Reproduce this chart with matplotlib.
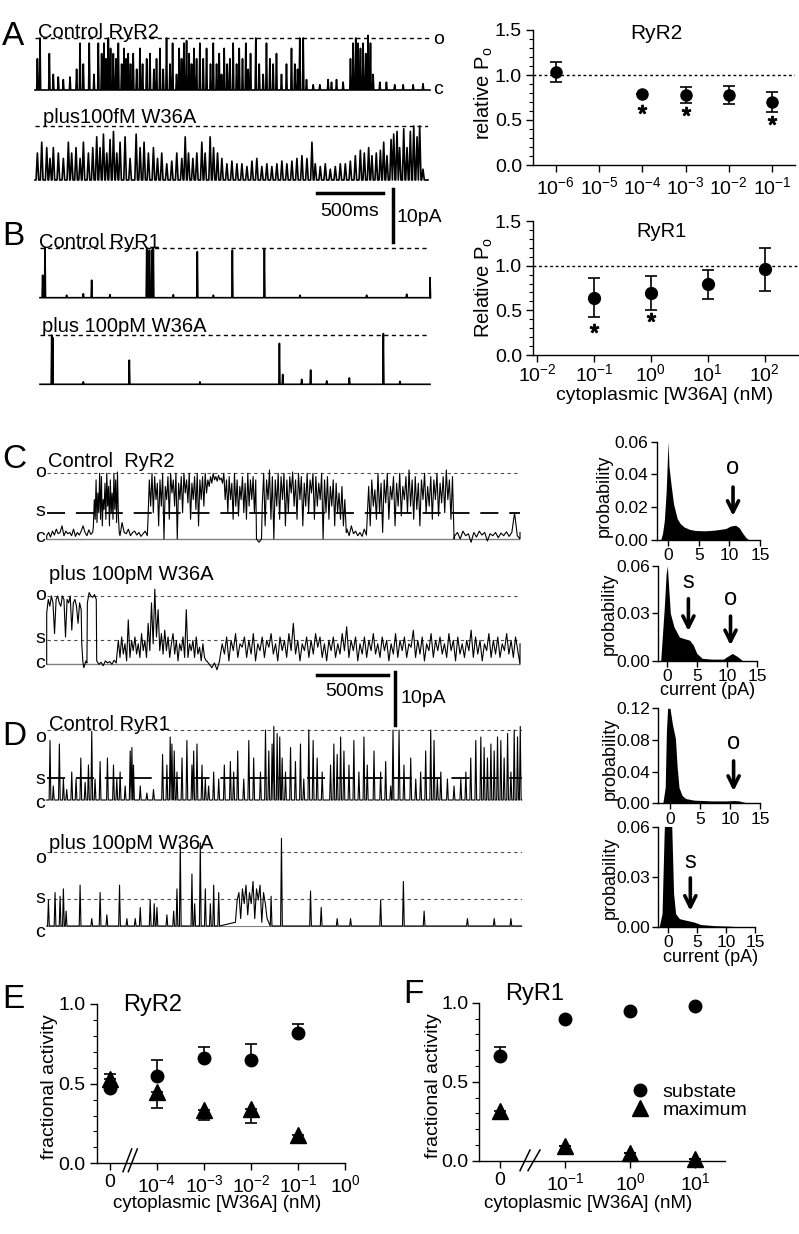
import numpy as np
import matplotlib
matplotlib.use("Agg")
import matplotlib.pyplot as plt
from matplotlib.lines import Line2D
from matplotlib.ticker import MultipleLocator, FixedLocator, NullLocator, FormatStrFormatter

plt.rcParams['font.family'] = ['Liberation Sans', 'DejaVu Sans']
plt.rcParams['mathtext.fontset'] = 'custom'
plt.rcParams['mathtext.rm'] = 'Liberation Sans'
plt.rcParams['mathtext.it'] = 'Liberation Sans:italic'
plt.rcParams['mathtext.bf'] = 'Liberation Sans:bold'
plt.rcParams['axes.linewidth'] = 1.0

# ---------------- data ----------------
# A right: RyR2 relative Po vs cytoplasmic [W36A] (nM)
a_conc = [1e-6, 1e-4, 1e-3, 1e-2, 1e-1]
a_po = [1.03, 0.79, 0.78, 0.78, 0.70]
a_err = [0.11, 0.0, 0.09, 0.10, 0.11]
a_star_conc = [1e-4, 1e-3, 1e-1]
a_star_y = [0.62, 0.60, 0.50]
a_ticks = [1e-6, 1e-5, 1e-4, 1e-3, 1e-2, 1e-1]
a_ticklabels = ['$10^{-6}$', '$10^{-5}$', '$10^{-4}$', '$10^{-3}$', '$10^{-2}$', '$10^{-1}$']

# B right: RyR1
b_conc = [1e-1, 1e0, 1e1, 1e2]
b_po = [0.64, 0.69, 0.79, 0.96]
b_err = [0.22, 0.19, 0.16, 0.24]
b_star_conc = [1e-1, 1e0]
b_star_y = [0.30, 0.43]
b_ticks = [1e-2, 1e-1, 1e0, 1e1, 1e2]
b_ticklabels = ['$10^{-2}$', '$10^{-1}$', '$10^{0}$', '$10^{1}$', '$10^{2}$']

# single channel traces: spike times (ms) and amplitudes (fraction of open level)
a1_t = [18, 38, 109, 139, 177, 215, 266, 316, 342, 367, 412, 448, 481, 506, 524, 539, 557, 574,
        595, 615, 633, 658, 676, 691, 708, 726, 746, 772, 797, 817, 848, 873, 903, 923, 949, 974,
        999, 1025, 1045, 1075, 1095, 1113, 1131, 1151, 1171, 1189, 1207, 1227, 1252, 1278, 1303,
        1333, 1354, 1379, 1399, 1417, 1437, 1460, 1480, 1505, 1531, 1551, 1576, 1601, 1619, 1637,
        1677, 1703, 1733, 1758, 1784, 1809, 1834, 1872, 1910, 1948, 1973, 1994, 2011, 2037, 2062,
        2113, 2163, 2226, 2252, 2290, 2340, 2396, 2416, 2436, 2454, 2472, 2492, 2512, 2530, 2548,
        2568, 2619, 2669, 2732, 2796, 2872, 2947]
a1_amp = [0.6, 1.0, 0.7, 0.3, 0.25, 0.2, 0.25, 0.4, 0.9, 0.5, 0.9, 0.3, 0.9, 0.7, 0.9, 0.6, 1.0, 0.8,
          0.7, 0.6, 0.9, 0.5, 0.8, 0.6, 0.7, 0.5, 0.7, 0.4, 0.8, 0.5, 0.6, 0.7, 0.4, 0.6, 0.8, 0.4,
          1.0, 0.5, 0.9, 0.3, 0.8, 0.6, 0.9, 0.95, 0.7, 0.5, 0.8, 0.6, 0.9, 0.6, 0.8,
          0.5, 0.9, 0.5, 0.7, 0.3, 0.8, 0.5, 0.6, 0.9, 0.5, 0.8, 0.6, 0.9, 0.4, 0.7,
          1.0, 0.5, 0.3, 0.9, 0.6, 0.5, 0.7, 0.3, 0.5, 0.8, 0.5, 0.4, 1.0, 1.0, 0.2,
          0.1, 0.1, 0.2, 0.15, 0.2, 0.15, 0.6, 0.9, 1.0, 0.9, 0.8, 0.9, 0.7, 1.05, 0.9,
          0.3, 0.15, 0.15, 0.1, 0.1, 0.1, 0.12]

a2_t = [18, 51, 89, 114, 139, 177, 215, 253, 278, 311, 342, 367, 405, 438, 468, 493, 519, 544, 569,
        595, 620, 645, 683, 721, 767, 797, 827, 860, 898, 929, 961, 999, 1037, 1075, 1113, 1139,
        1164, 1197, 1227, 1265, 1290, 1328, 1354, 1384, 1417, 1455, 1493, 1531, 1569, 1607, 1645,
        1682, 1720, 1758, 1796, 1834, 1872, 1910, 1948, 1986, 2024, 2062, 2100, 2125, 2163, 2201,
        2239, 2277, 2315, 2353, 2391, 2429, 2467, 2497, 2530, 2555, 2588, 2619, 2644, 2669, 2700,
        2720, 2745, 2765, 2796, 2821, 2846, 2872, 2897, 2917, 2942]
a2_amp = [0.5, 0.7, 0.6, 0.4, 0.6, 0.5, 0.4, 0.7, 0.5, 0.6, 0.4, 0.7, 0.5, 0.6, 0.8, 0.6, 0.85, 0.5, 0.75,
          0.9, 0.5, 0.7, 0.8, 0.4, 0.85, 0.6, 0.7, 0.5, 0.6, 0.4, 0.5, 0.3, 0.35, 0.5, 0.4, 0.8,
          0.5, 0.4, 0.5, 0.7, 0.5, 0.8, 0.6, 0.5, 0.4, 0.3, 0.35, 0.3, 0.3, 0.25, 0.35,
          0.4, 0.25, 0.3, 0.25, 0.3, 0.35, 0.3, 0.35, 0.4, 0.45, 0.4, 0.7, 0.3, 0.25, 0.3,
          0.2, 0.25, 0.3, 0.3, 0.35, 0.45, 0.55, 0.5, 0.6, 0.45, 0.5, 0.55, 0.7, 0.45, 0.75,
          0.85, 0.9, 0.6, 0.95, 0.6, 0.9, 1.0, 0.8, 1.0, 0.2]

b1_t = [20, 38, 202, 329, 392, 531, 810, 830, 848, 860, 1012, 1194, 1316, 1460, 1703, 1973, 2479,
        2783, 2960]
b1_amp = [0.45, 1.0, 0.05, 0.08, 0.35, 0.06, 1.0, 0.95, 0.95, 1.0, 0.06, 0.92, 0.05, 0.95, 0.98,
          0.05, 0.05, 0.07, 0.4]

b2_t = [89, 96, 329, 678, 1214, 1817, 1842, 1986, 2054, 2176, 2348, 2606, 2732]
b2_amp = [1.0, 0.95, 0.05, 0.49, 0.05, 0.83, 0.2, 0.1, 0.29, 0.07, 0.13, 1.03, 0.06]

# C control RyR2 trace: (start ms, end ms, evenly spaced levels)
c1_segments = [
    (0, 320, [0.05, 0.1, 0.03, 0.12, 0.06, 0.15, 0.08, 0.1, 0.2, 0.05, 0.12, 0.08, 0.1, 0.05,
              0.15, 0.04, 0.1, 0.06, 0.12, 0.2, 0.1, 0.05, 0.14, 0.07, 0.1]),
    (325, 505, [0.2, 0.6, 0.3, 0.9, 0.25, 0.7, 0.4, 1.0, 0.3, 0.95, 0.2, 0.6, 0.45, 0.85, 0.3,
                1.0, 0.5, 0.8, 0.2, 0.9, 0.4, 0.7, 0.3, 1.0, 0.45, 0.9, 0.25, 1.02, 0.35, 0.1]),
    (510, 700, [0.05, 0.25, 0.1, 0.08, 0.15, 0.05, 0.1, 0.12, 0.06, 0.1, 0.04, 0.08, 0.12, 0.05]),
    (705, 1455, [0.3, 0.9, 0.5, 1.0, 0.4, 0.95, 0.6, 0.85, 0.2, 0.9, 0.5, 1.0, 0.0, 0.8, 0.6,
                 0.95, 0.3, 1.0, 0.7, 0.9, 0.5, 1.0, 0.0, 0.85, 0.6, 0.95, 0.4, 1.0, 0.7, 0.9,
                 0.55, 1.0, 0.3, 0.85, 0.6, 0.95, 0.45, 1.0, 0.2, 0.9, 0.6, 0.95, 0.5, 1.0, 0.7,
                 0.9, 0.8, 0.95, 0.85, 1.0, 0.9, 0.95, 0.88, 0.97, 0.9, 0.93, 0.85, 1.0, 0.6, 0.9,
                 0.4, 0.95, 0.6, 0.85, 0.3, 1.0, 0.5, 0.9, 0.35, 0.8, 0.6, 0.95, 0.4, 0.85, 0.3,
                 1.0, 0.5, 0.9, 0.6, 0.95, 0.4, 0.9]),
    (1460, 1495, [0.0, -0.05, 0.0]),
    (1500, 2085, [0.5, 1.0, 0.2, 0.9, 0.6, 1.05, 0.3, 0.95, 0.0, 0.9, 0.5, 1.0, 0.3, 0.95, 0.6,
                  1.0, 0.2, 0.9, 0.4, 0.95, 0.7, 1.02, 0.5, 0.9, 0.3, 1.0, 0.6, 0.95, 0.2, 0.85,
                  0.5, 1.0, 0.4, 0.9, 0.7, 1.0, 0.3, 0.95, 0.5, 0.85, 0.6, 1.0, 0.0, 0.9, 0.4,
                  0.95, 0.3, 0.8, 0.5, 0.9, 0.2, 0.85, 0.4, 0.7, 0.3, 0.8, 0.2, 0.6, 0.1]),
    (2090, 2225, [0.15, 0.05, 0.2, 0.08, 0.12, 0.05, 0.1, 0.04, 0.15, 0.06]),
    (2230, 2835, [0.3, 0.8, 0.2, 0.9, 0.5, 0.75, 0.3, 1.0, 0.4, 0.85, 0.1, 0.9, 0.55, 1.0, 0.3,
                  0.8, 0.6, 0.95, 0.2, 0.85, 0.5, 1.0, 0.35, 0.8, 0.6, 0.95, 0.4, 1.05, 0.5, 0.9,
                  0.3, 0.95, 0.45, 0.85, 0.2, 0.9, 0.6, 1.0, 0.4, 0.8, 0.5, 0.95, 0.3, 0.9, 0.6,
                  1.0, 0.35, 0.85, 0.55, 0.95, 0.4, 1.05, 0.6, 0.9, 0.3, 0.95, 0.0]),
    (2840, 3294, [0.05, 0.1, 0.0, 0.12, 0.05, 0.08, -0.05, 0.1, 0.03, 0.12, 0.06, 0.1, -0.03,
                  0.08, 0.05, 0.1, 0.02, 0.09, 0.05, 0.11, 0.04, 0.1, 0.4, 0.05, 0.1]),
]

# C plus 100pM W36A
c2_segments = [
    (0, 240, [0.75, 0.95, 0.85, 1.0, 0.9, 0.45, 0.95, 1.0, 0.9, 0.85, 1.0, 0.95, 0.4, 0.95, 0.9,
              1.0, 0.5, 0.9, 0.95, 0.85, 0.6, 0.9, 0.8]),
    (244, 280, [0.3, 0.05, -0.05, 0.0, 0.05, 0.02]),
    (283, 345, [0.9, 1.05, 1.0, 0.98, 1.02, 0.95]),
    (348, 484, [0.05, 0.0, 0.03, -0.02, 0.05, 0.02, 0.04, 0.0, 0.06, 0.02]),
    (487, 1110, [0.1, 0.35, 0.1, 0.4, 0.15, 0.3, 0.05, 0.65, 0.1, 0.35, 0.2, 0.4, 0.15, 0.3, 0.1,
                 0.45, 0.2, 0.35, 0.1, 0.6, 0.2, 0.9, 0.3, 1.1, 0.4, 0.8, 0.2, 0.45, 0.15, 0.5,
                 0.2, 0.4, 0.1, 0.3, 0.45, 0.15, 0.35, 0.05, 0.3, 0.2, 0.4, 0.1, 0.8, 0.1, 0.3,
                 0.2, 0.35, 0.1, 0.4, 0.15, 0.25, 0.05, 0.3, 0.1, 0.05]),
    (1114, 1203, [0.05, 0.0, -0.05, 0.02, -0.08, 0.05]),
    (1206, 3294, [0.1, 0.3, 0.15, 0.4, 0.05, 0.35, 0.2, 0.45, 0.1, 0.3, 0.25, 0.4, 0.1, 0.35,
                  0.15, 0.45, 0.05, 0.3, 0.2, 0.4, 0.1, 0.35, 0.25, 0.45, 0.15, 0.3, 0.05, 0.4,
                  0.2, 0.35, 0.1, 0.45, 0.2, 0.6, 0.15, 0.35, 0.05, 0.3, 0.2, 0.4, 0.1, 0.35,
                  0.15, 0.45, 0.25, 0.4, 0.1, 0.3, 0.05, 0.35, 0.2, 0.4, 0.1, 0.3, 0.15, 0.45,
                  0.2, 0.55, 0.1, 0.35, 0.2, 0.4, 0.05, 0.3, 0.15, 0.4, 0.1, 0.35, 0.2, 0.45,
                  0.15, 0.3, 0.1, 0.4, 0.2, 0.35, 0.05, 0.3, 0.15, 0.45, 0.1, 0.35, 0.2, 0.4,
                  0.1, 0.3, 0.25, 0.5, 0.1, 0.35, 0.15, 0.4, 0.05, 0.3, 0.2, 0.45, 0.1, 0.35,
                  0.2, 0.4, 0.15, 0.3, 0.1, 0.45, 0.2, 0.35, 0.05, 0.4, 0.15, 0.3, 0.1, 0.35,
                  0.2, 0.5, 0.1, 0.4, 0.15, 0.35, 0.05, 0.3, 0.2, 0.45, 0.1, 0.35, 0.15, 0.4,
                  0.1, 0.3, 0.2, 0.45, 0.15, 0.35, 0.1, 0.4, 0.2, 0.3]),
]

# D control RyR1
d1_t = [23, 46, 88, 116, 139, 174, 204, 237, 267, 290, 313, 336, 371, 422, 464, 487, 510, 545,
        580, 592, 603, 650, 696, 742, 805, 835, 858, 870, 886, 905, 940, 974, 1009, 1021, 1044,
        1079, 1102, 1125, 1160, 1195, 1234, 1276, 1299, 1327, 1369, 1404, 1438, 1485, 1520, 1543,
        1566, 1578, 1601, 1619, 1636, 1659, 1694, 1728, 1763, 1786, 1821, 1851, 1879, 1914, 1972,
        1995, 2018, 2042, 2065, 2100, 2134, 2169, 2204, 2227, 2274, 2320, 2355, 2390, 2406, 2448,
        2482, 2529, 2564, 2598, 2633, 2668, 2691, 2714, 2738, 2784, 2830, 2877, 2912, 2946, 2981,
        3016, 3039, 3062, 3086, 3109, 3132, 3155, 3178, 3202, 3225, 3248, 3271, 3290]
d1_amp = [0.85, 0.2, 0.8, 0.3, 0.15, 0.4, 0.3, 0.6, 0.25, 0.5, 0.98, 0.3, 0.55, 0.6, 0.5, 0.3,
          0.4, 0.2, 0.7, 0.75, 0.5, 0.2, 0.1, 0.15, 0.65, 0.5, 0.9, 0.8, 0.7, 0.4, 0.6, 0.85, 0.5,
          0.7, 0.8, 0.5, 0.3, 0.2, 0.4, 0.3, 0.5, 0.55, 0.4, 0.7, 0.3, 0.85, 0.6, 0.4, 1.0, 0.7,
          0.8, 1.05, 0.95, 0.9, 0.6, 0.4, 0.75, 0.55, 0.8, 0.3, 1.0, 0.85, 0.6, 0.4, 0.5, 0.8,
          0.65, 0.9, 0.7, 0.5, 0.85, 0.4, 0.9, 0.5, 0.7, 0.4, 0.55, 0.2, 1.0, 1.0, 0.5, 0.6, 0.3,
          0.4, 0.7, 1.0, 0.85, 0.3, 0.4, 0.3, 0.2, 0.3, 0.4, 0.6, 0.85, 0.9, 0.75, 0.6, 0.8, 0.7,
          0.9, 0.85, 0.6, 0.95, 0.4, 1.0, 0.9, 1.05]

# D plus 100pM W36A
d2_t = [12, 58, 93, 116, 135, 232, 313, 371, 418, 506, 557, 615, 650, 719, 747, 766, 835, 882,
        905, 928, 1009, 1028, 1067, 1102, 1137, 1160, 1195, 1559, 1631, 1833, 1907, 2018, 2111,
        2320, 2478, 2622, 2923, 3109, 3225]
d2_amp = [0.35, 0.45, 0.4, 0.5, 0.2, 0.55, 0.1, 0.45, 0.15, 0.55, 0.1, 0.1, 0.25, 0.35, 0.3,
          0.25, 0.15, 0.2, 0.5, 1.12, 0.7, 0.3, 1.12, 0.5, 0.3, 0.55, 0.45, 0.4, 1.18, 0.47,
          0.25, 0.1, 0.1, 0.35, 0.6, 0.2, 0.1, 0.1, 0.1]
d2_segments = [
    (1311, 1531, [0.05, 0.35, 0.45, 0.1, 0.5, 0.3, 0.55, 0.15, 0.45, 0.3, 0.6, 0.1, 0.5, 0.35,
                  0.55, 0.05, 0.45, 0.3, 0.1]),
]

# current amplitude histograms (pA, probability)
hc1_x = [-1.2, -0.9, -0.6, -0.3, -0.1, 0.0, 0.15, 0.5, 0.9, 1.5, 2.0, 2.6, 3.5, 4.5, 6.0, 7.5,
         8.5, 9.4, 10.2, 11.0, 11.6, 12.2, 12.7, 13.2]
hc1_p = [0, 0.004, 0.012, 0.03, 0.05, 0.06, 0.045, 0.0335, 0.022, 0.013, 0.010, 0.008, 0.0065,
         0.0058, 0.0056, 0.006, 0.0065, 0.007, 0.0085, 0.009, 0.0075, 0.004, 0.0015, 0]
hc2_x = [-1.0, -0.4, -0.1, 0.1, 0.6, 1.2, 2.1, 2.9, 3.8, 4.4, 5.0, 5.9, 7.5, 9.4, 10.0, 10.9,
         11.8, 12.6]
hc2_p = [0, 0.034, 0.055, 0.06, 0.03, 0.0215, 0.015, 0.014, 0.013, 0.01, 0.0046, 0.0015, 0.001,
         0.001, 0.0025, 0.0046, 0.0025, 0]
hd1_x = [-1.2, -0.8, -0.6, -0.4, 0.0, 0.4, 0.9, 1.2, 1.5, 2.0, 2.6, 4.0, 7.0, 9.5, 10.6, 11.5,
         12.3, 13.0]
hd1_p = [0, 0.02, 0.09, 0.12, 0.12, 0.1, 0.082, 0.045, 0.02, 0.01, 0.006, 0.004, 0.003, 0.003,
         0.0035, 0.003, 0.0015, 0]
hd2_x = [-1.6, -1.1, -0.75, -0.5, 0.0, 0.5, 0.9, 1.25, 1.9, 3.1, 4.4, 5.6, 8.0, 10.5, 13.0]
hd2_p = [0, 0.008, 0.054, 0.08, 0.1, 0.07, 0.02, 0.008, 0.005, 0.004, 0.003, 0.0015, 0.0008,
         0.0005, 0]

# E: RyR2 fractional activity ("0" drawn at 1e-5)
e_conc = [1e-5, 1e-4, 1e-3, 1e-2, 1e-1]
e_sub = [0.47, 0.55, 0.66, 0.65, 0.82]
e_sub_err = [0.0, 0.10, 0.07, 0.10, 0.055]
e_max = [0.53, 0.45, 0.335, 0.34, 0.18]
e_max_lo = [0.0, 0.10, 0.065, 0.09, 0.05]
e_max_hi = [0.03, 0.0, 0.0, 0.0, 0.0]
e_ticks = [1e-5, 1e-4, 1e-3, 1e-2, 1e-1, 1e0]
e_ticklabels = ['0', '$10^{-4}$', '$10^{-3}$', '$10^{-2}$', '$10^{-1}$', '$10^{0}$']

# F: RyR1 fractional activity ("0" drawn at 1e-2)
f_conc = [1e-2, 1e-1, 1e0, 1e1]
f_sub = [0.665, 0.895, 0.95, 0.98]
f_sub_err = [0.055, 0, 0, 0]
f_max = [0.315, 0.093, 0.05, 0.01]
f_max_err = [0.04, 0, 0, 0]
f_ticks = [1e-2, 1e-1, 1e0, 1e1]
f_ticklabels = ['0', '$10^{-1}$', '$10^{0}$', '$10^{1}$']

# ---------------- figure ----------------
W, H = 799, 1234
fig = plt.figure(figsize=(W / 100, H / 100), dpi=100)


def px_axes(x0, y0, x1, y1):
    return fig.add_axes([x0 / W, 1 - y1 / H, (x1 - x0) / W, (y1 - y0) / H])


def ftext(x, y, s, **kw):
    kw.setdefault('va', 'baseline')
    return fig.text(x / W, 1 - y / H, s, **kw)


def fline(xs, ys, **kw):
    fig.add_artist(Line2D([x / W for x in xs], [1 - y / H for y in ys], **kw))


def draw_trace(x0, x1, y_open, y_base, t_end, times=None, amps=None, width=10,
               segments=None, lw=1.0):
    pad_top, pad_bot = 16, 10
    ax = px_axes(x0, y_open - pad_top, x1, y_base + pad_bot)
    span = y_base - y_open
    ax.set_xlim(0, t_end)
    ax.set_ylim(-pad_bot / span, 1 + pad_top / span)
    pts = [(0.0, 0.0), (float(t_end), 0.0)]
    if times is not None:
        for t, a in zip(times, amps):
            pts += [(t - width / 2, 0.0), (t, a), (t + width / 2, 0.0)]
    if segments:
        for t0, t1, vals in segments:
            pts += list(zip(np.linspace(t0, t1, len(vals)), vals))
    pts.sort(key=lambda p: p[0])
    xs, ys = zip(*pts)
    ax.plot(xs, ys, color='black', lw=lw, clip_on=False, zorder=3)
    ax.axis('off')
    return ax


def style_axes(ax, fs=14):
    for s in ['top', 'right']:
        ax.spines[s].set_visible(False)
    ax.tick_params(direction='out', length=5, width=1, labelsize=fs, pad=3)
    ax.tick_params(which='minor', direction='out', length=3, width=0.8)


# ----- panel A traces -----
ftext(2, 45, 'A', fontsize=24)
ax = draw_trace(35, 430, 38, 90, 3000, a1_t, a1_amp, width=10, lw=1.2)
ax.axhline(1.0, ls=(0, (3, 2.5)), color='black', lw=1.0, zorder=1)
ftext(38, 38.5, 'Control RyR2', fontsize=14.5)
ftext(433, 44, 'o', fontsize=14)
ftext(433, 94, 'c', fontsize=14)
ax = draw_trace(35, 428, 126, 180, 2980, a2_t, a2_amp, width=20, lw=1.2)
ax.axhline(1.0, ls=(0, (3, 2.5)), color='black', lw=1.0, zorder=1)
ftext(43, 122.7, 'plus100fM W36A', fontsize=14.5)

# scale bars A/B
fline([317, 383], [193, 193], color='black', lw=2.5)
fline([392.5, 392.5], [189, 242], color='black', lw=2.5)
ftext(350, 216, '500ms', fontsize=14, ha='center')
ftext(397, 221.7, '10pA', fontsize=14)

# ----- panel B traces -----
ftext(2, 245, 'B', fontsize=24)
ax = draw_trace(40, 430, 247.7, 297.7, 2960, b1_t, b1_amp, width=8, lw=1.2)
ax.axhline(1.0, ls=(0, (3, 2.5)), color='black', lw=1.0, zorder=1)
ftext(39, 248.3, 'Control RyR1', fontsize=14.5)
ax = draw_trace(40, 430, 335, 384.3, 2960, b2_t, b2_amp, width=8, lw=1.2)
ax.axhline(1.0, ls=(0, (3, 2.5)), color='black', lw=1.0, zorder=1)
ftext(41.7, 331.7, 'plus 100pM W36A', fontsize=14.5)

# ----- A right: RyR2 relative Po -----
ax = px_axes(533, 30, 795, 165)
ax.set_xscale('log')
ax.set_xlim(10 ** -6.53, 10 ** -0.47)
ax.set_ylim(0, 1.5)
ax.axhline(1.0, ls=(0, (2, 2)), color='black', lw=1.0)
ax.errorbar(a_conc, a_po, yerr=a_err, fmt='o', ms=8, color='black', ecolor='black',
            elinewidth=1.2, capsize=4, capthick=1.2)
ax.plot(a_star_conc, a_star_y, ls='none', marker='$*$', ms=6, color='black')
ax.xaxis.set_major_locator(FixedLocator(a_ticks))
ax.xaxis.set_minor_locator(NullLocator())
ax.set_xticklabels(a_ticklabels)
ax.yaxis.set_major_locator(MultipleLocator(0.5))
ax.yaxis.set_minor_locator(MultipleLocator(0.1))
ax.yaxis.set_major_formatter(FormatStrFormatter('%.1f'))
style_axes(ax)
ftext(656.7, 39.3, 'RyR2', fontsize=15, ha='center')
ftext(484, 93, 'relative P$_{\\rm o}$', fontsize=14.5, rotation=90, ha='center', va='center')

# ----- B right: RyR1 relative Po -----
ax = px_axes(533, 221, 799, 355)
ax.set_xscale('log')
ax.set_xlim(10 ** -2.07, 10 ** 2.6)
ax.set_ylim(0, 1.5)
ax.axhline(1.0, ls=(0, (2, 2)), color='black', lw=1.0)
ax.errorbar(b_conc, b_po, yerr=b_err, fmt='o', ms=8.5, color='black', ecolor='black',
            elinewidth=1.2, capsize=4, capthick=1.2)
ax.plot(b_star_conc, b_star_y, ls='none', marker='$*$', ms=6, color='black')
ax.xaxis.set_major_locator(FixedLocator(b_ticks))
ax.xaxis.set_minor_locator(NullLocator())
ax.set_xticklabels(b_ticklabels)
ax.yaxis.set_major_locator(MultipleLocator(0.5))
ax.yaxis.set_minor_locator(MultipleLocator(0.1))
ax.yaxis.set_major_formatter(FormatStrFormatter('%.1f'))
style_axes(ax)
ax.tick_params(axis='x', pad=1)
ftext(661.7, 237.3, 'RyR1', fontsize=14.5, ha='center')
ftext(484, 287.5, 'Relative P$_{\\rm o}$', fontsize=14.5, rotation=90, ha='center', va='center')
ftext(665, 400, 'cytoplasmic [W36A] (nM)', fontsize=14, ha='center')

# ----- panel C traces -----
ftext(2, 468, 'C', fontsize=24)
ax = draw_trace(46.7, 520, 473.3, 539, 3294, segments=c1_segments, lw=0.8)
ax.axhline(1.0, ls=(0, (3, 3)), color='0.3', lw=0.8, zorder=1)
ax.axhline(0.39, ls=(0, (10, 6)), color='black', lw=1.3, zorder=4)
ax.axhline(0.0, color='0.5', lw=1.0, zorder=1)
ftext(48.3, 466.7, 'Control  RyR2', fontsize=14.5)
ftext(35, 477.3, 'o', fontsize=14)
ftext(35, 516, 's', fontsize=14)
ftext(35, 541.7, 'c', fontsize=14)

ax = draw_trace(46.7, 520, 596, 664.3, 3294, segments=c2_segments, lw=0.8)
ax.axhline(1.0, ls=(0, (3, 3)), color='0.3', lw=0.8, zorder=1)
ax.axhline(0.36, ls=(0, (3, 3)), color='0.3', lw=0.8, zorder=1)
ax.axhline(0.0, color='0.5', lw=1.0, zorder=1)
ftext(49.3, 580, 'plus 100pM W36A', fontsize=14.5)
ftext(35, 600, 'o', fontsize=14)
ftext(35, 643.3, 's', fontsize=14)
ftext(35, 668.3, 'c', fontsize=14)

# scale bars C/D
fline([316.7, 388.3], [675, 675], color='black', lw=2.5)
fline([395, 395], [671.7, 725], color='black', lw=2.5)
ftext(355, 696, '500ms', fontsize=14, ha='center')
ftext(400, 702.7, '10pA', fontsize=14)

# ----- panel D traces -----
ftext(2, 745, 'D', fontsize=24)
ax = draw_trace(46.7, 521.7, 730, 800, 3300, d1_t, d1_amp, width=12, lw=0.8)
ax.axhline(1.0, ls=(0, (3, 3)), color='0.3', lw=0.8, zorder=1)
ax.axhline(0.32, ls=(0, (10, 6)), color='black', lw=1.3, zorder=4)
ftext(49.3, 730, 'Control RyR1', fontsize=14.5)
ftext(35, 741.7, 'o', fontsize=14)
ftext(35, 784, 's', fontsize=14)
ftext(35, 808.3, 'c', fontsize=14)

ax = draw_trace(46.7, 521.7, 851.7, 926, 3300, d2_t, d2_amp, width=12, segments=d2_segments,
                lw=0.8)
ax.axhline(1.0, ls=(0, (3, 3)), color='0.3', lw=0.8, zorder=1)
ax.axhline(0.37, ls=(0, (3, 3)), color='0.3', lw=0.8, zorder=1)
ax.axhline(0.0, color='0.5', lw=0.8, zorder=1)
ftext(49.3, 849.3, 'plus 100pM W36A', fontsize=14.5)
ftext(35, 863.3, 'o', fontsize=14)
ftext(35, 903.3, 's', fontsize=14)
ftext(35, 936.7, 'c', fontsize=14)


# ----- histograms -----
def hist_axes(box, hx, hp, xlim, ymax, ystep, arrows, ylab_xy):
    ax = px_axes(*box)
    ax.fill_between(hx, hp, 0, color='black', lw=0)
    ax.set_xlim(*xlim)
    ax.set_ylim(0, ymax)
    ax.xaxis.set_major_locator(FixedLocator([0, 5, 10, 15]))
    ax.yaxis.set_major_locator(MultipleLocator(ystep))
    ax.yaxis.set_major_formatter(FormatStrFormatter('%.2f'))
    style_axes(ax, fs=12.5)
    ax.tick_params(length=4, pad=2)
    for label, x, tail, tip, ly in arrows:
        ax.annotate('', xy=(x, tip), xytext=(x, tail),
                    arrowprops=dict(arrowstyle='->', lw=2.6, color='black', mutation_scale=20))
        ax.text(x, ly, label, ha='center', va='baseline', fontsize=17)
    ftext(ylab_xy[0], ylab_xy[1], 'probability', fontsize=13, rotation=90,
          ha='center', va='center')
    return ax


hist_axes((656.7, 441.7, 760, 540), hc1_x, hc1_p, (-1.85, 15), 0.06, 0.02,
          [('o', 10.6, 0.034, 0.013, 0.040)], (604, 495.8))
hist_axes((658, 566, 757, 660.7), hc2_x, hc2_p, (-1.45, 15), 0.06, 0.03,
          [('s', 3.6, 0.041, 0.017, 0.046), ('o', 10.6, 0.030, 0.008, 0.035)], (609, 614))
ftext(708, 695, 'current (pA)', fontsize=13, ha='center')
hist_axes((658.3, 708.3, 760, 803.3), hd1_x, hd1_p, (-1.95, 15), 0.12, 0.04,
          [('o', 10.6, 0.057, 0.012, 0.068)], (610, 759))
hist_axes((658, 826.7, 755, 927), hd2_x, hd2_p, (-1.8, 15), 0.06, 0.03,
          [('s', 3.8, 0.031, 0.008, 0.035)], (610, 878))
ftext(711, 962, 'current (pA)', fontsize=13, ha='center')

# ----- panel E -----
ftext(2, 1008, 'E', fontsize=24)
ax = px_axes(96.7, 1004, 345, 1163.3)
ax.set_xscale('log')
ax.set_xlim(10 ** -5.28, 1e0)
ax.set_ylim(0, 1.0)
ax.errorbar(e_conc, e_sub, yerr=[[0] * len(e_sub), e_sub_err], fmt='o', ms=9, color='black',
            elinewidth=1.2, capsize=4, capthick=1.2, clip_on=False)
ax.errorbar(e_conc, e_max, yerr=[e_max_lo, e_max_hi], fmt='^', ms=11, color='black',
            elinewidth=1.2, capsize=4, capthick=1.2, clip_on=False)
ax.xaxis.set_major_locator(FixedLocator(e_ticks))
ax.xaxis.set_minor_locator(NullLocator())
ax.set_xticklabels(e_ticklabels)
ax.yaxis.set_major_locator(MultipleLocator(0.5))
ax.yaxis.set_minor_locator(MultipleLocator(0.1))
ax.yaxis.set_major_formatter(FormatStrFormatter('%.1f'))
style_axes(ax)
ftext(152.5, 1011, 'RyR2', fontsize=17, ha='center')
ftext(50, 1086.7, 'fractional activity', fontsize=14, rotation=90, ha='center', va='center')
ftext(217.5, 1208.3, 'cytoplasmic [W36A] (nM)', fontsize=13.5, ha='center')
fline([123, 131.7], [1171.7, 1149], color='black', lw=1.1)
fline([128.3, 137.3], [1171.7, 1149], color='black', lw=1.1)

# ----- panel F -----
ftext(403, 1003.3, 'F', fontsize=24)
ax = px_axes(479.3, 1002.7, 725, 1160.7)
ax.set_xscale('log')
ax.set_xlim(10 ** -2.32, 10 ** 1.46)
ax.set_ylim(0, 1.0)
ax.errorbar(f_conc, f_sub, yerr=[[0] * len(f_sub), f_sub_err], fmt='o', ms=9, color='black',
            elinewidth=1.2, capsize=4, capthick=1.2, clip_on=False, label='substate')
ax.errorbar(f_conc, f_max, yerr=[f_max_err, [0] * len(f_max)], fmt='^', ms=11, color='black',
            elinewidth=1.2, capsize=4, capthick=1.2, clip_on=False, label='maximum')
ax.xaxis.set_major_locator(FixedLocator(f_ticks))
ax.xaxis.set_minor_locator(NullLocator())
ax.set_xticklabels(f_ticklabels)
ax.yaxis.set_major_locator(MultipleLocator(0.5))
ax.yaxis.set_minor_locator(MultipleLocator(0.1))
ax.yaxis.set_major_formatter(FormatStrFormatter('%.1f'))
style_axes(ax)
h, l = ax.get_legend_handles_labels()
h = [hh[0] for hh in h]
ax.legend(h, l, loc='center left', bbox_to_anchor=(622 / W, 1 - 1101 / H),
          bbox_transform=fig.transFigure, frameon=False, fontsize=14, handlelength=0.9,
          handletextpad=0.7, labelspacing=0.0, borderpad=0)
ftext(535, 1000, 'RyR1', fontsize=17, ha='center')
ftext(433, 1085.8, 'fractional activity', fontsize=14, rotation=90, ha='center', va='center')
ftext(588, 1208.3, 'cytoplasmic [W36A] (nM)', fontsize=13.5, ha='center')
fline([520, 530], [1170.7, 1150], color='black', lw=1.1)
fline([528, 540], [1170.7, 1150], color='black', lw=1.1)

fig.savefig('out.png', dpi=100)
